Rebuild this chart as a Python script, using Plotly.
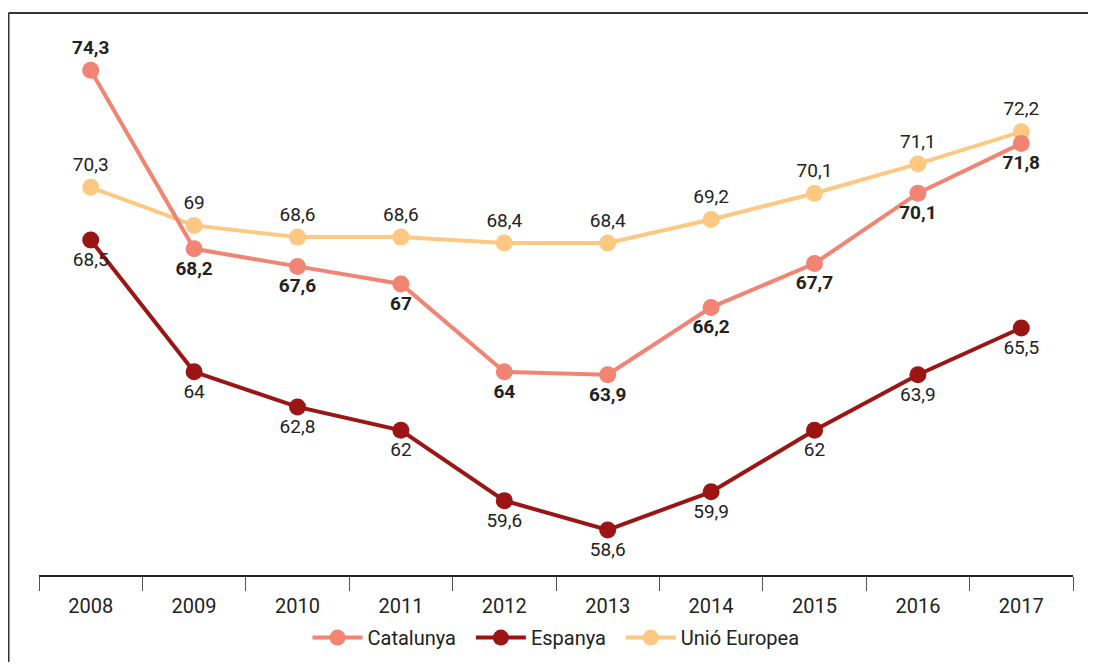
import plotly.graph_objects as go

years = ["2008", "2009", "2010", "2011", "2012", "2013", "2014", "2015", "2016", "2017"]
catalunya = [74.3, 68.2, 67.6, 67, 64, 63.9, 66.2, 67.7, 70.1, 71.8]
espanya = [68.5, 64, 62.8, 62, 59.6, 58.6, 59.9, 62, 63.9, 65.5]
ue = [70.3, 69, 68.6, 68.6, 68.4, 68.4, 69.2, 70.1, 71.1, 72.2]

def fmt(v):
    return f"{v:g}".replace(".", ",")

FONT = "Roboto"
TXT = "#222222"
NB = "\u00a0\u00a0"

fig = go.Figure()

cat_pos = ["top center"] + ["bottom center"] * (len(years) - 1)

fig.add_trace(go.Scatter(
    x=years, y=ue, name="Unió Europea", mode="lines+markers+text",
    line=dict(color="#FDC982", width=4), marker=dict(size=17, color="#FDC982"),
    text=[fmt(v) for v in ue], textposition="top center", cliponaxis=False,
    textfont=dict(family=FONT, size=19, color=TXT), legendrank=3,
))
fig.add_trace(go.Scatter(
    x=years, y=espanya, name="Espanya" + NB, mode="lines+markers+text",
    line=dict(color="#9C1515", width=4), marker=dict(size=17, color="#9C1515"),
    text=[fmt(v) for v in espanya], textposition="bottom center", cliponaxis=False,
    textfont=dict(family=FONT, size=19, color=TXT), legendrank=2,
))
fig.add_trace(go.Scatter(
    x=years, y=catalunya, name="Catalunya" + NB, mode="lines+markers+text",
    line=dict(color="#F18473", width=4), marker=dict(size=17, color="#F18473"),
    text=["<b>" + fmt(v) + "</b>" for v in catalunya], textposition=cat_pos, cliponaxis=False,
    textfont=dict(family=FONT, size=19, color=TXT), legendrank=1,
))

fig.update_layout(
    width=1080, height=654,
    margin=dict(l=31, r=15, t=23, b=87, autoexpand=False),
    paper_bgcolor="white", plot_bgcolor="white",
    font=dict(family=FONT, size=19, color=TXT),
    showlegend=True,
    legend=dict(orientation="h", x=0.5, xanchor="center", y=-0.115, yanchor="middle",
                font=dict(family=FONT, size=20, color=TXT), traceorder="normal",
                itemwidth=50),
    xaxis=dict(type="category", range=[-0.5, 9.5], showgrid=False, showline=True,
               linecolor="#222222", linewidth=2,
               ticks="outside", tickson="boundaries", ticklen=14, tickcolor="#555555", tickwidth=1,
               ticklabelstandoff=12, automargin=False,
               tickfont=dict(family=FONT, size=20, color=TXT), zeroline=False),
    yaxis=dict(range=[57.06, 75.64], visible=False, showgrid=False, zeroline=False),
    shapes=[
        dict(type="line", xref="paper", yref="paper", x0=-0.0295, x1=1.2, y0=1.0331, y1=1.0331,
             line=dict(color="#333333", width=2)),
        dict(type="line", xref="paper", yref="paper", x0=-0.0295, x1=-0.0295, y0=1.0331, y1=-0.3,
             line=dict(color="#333333", width=2)),
    ],
)

fig.write_html("out.html")
